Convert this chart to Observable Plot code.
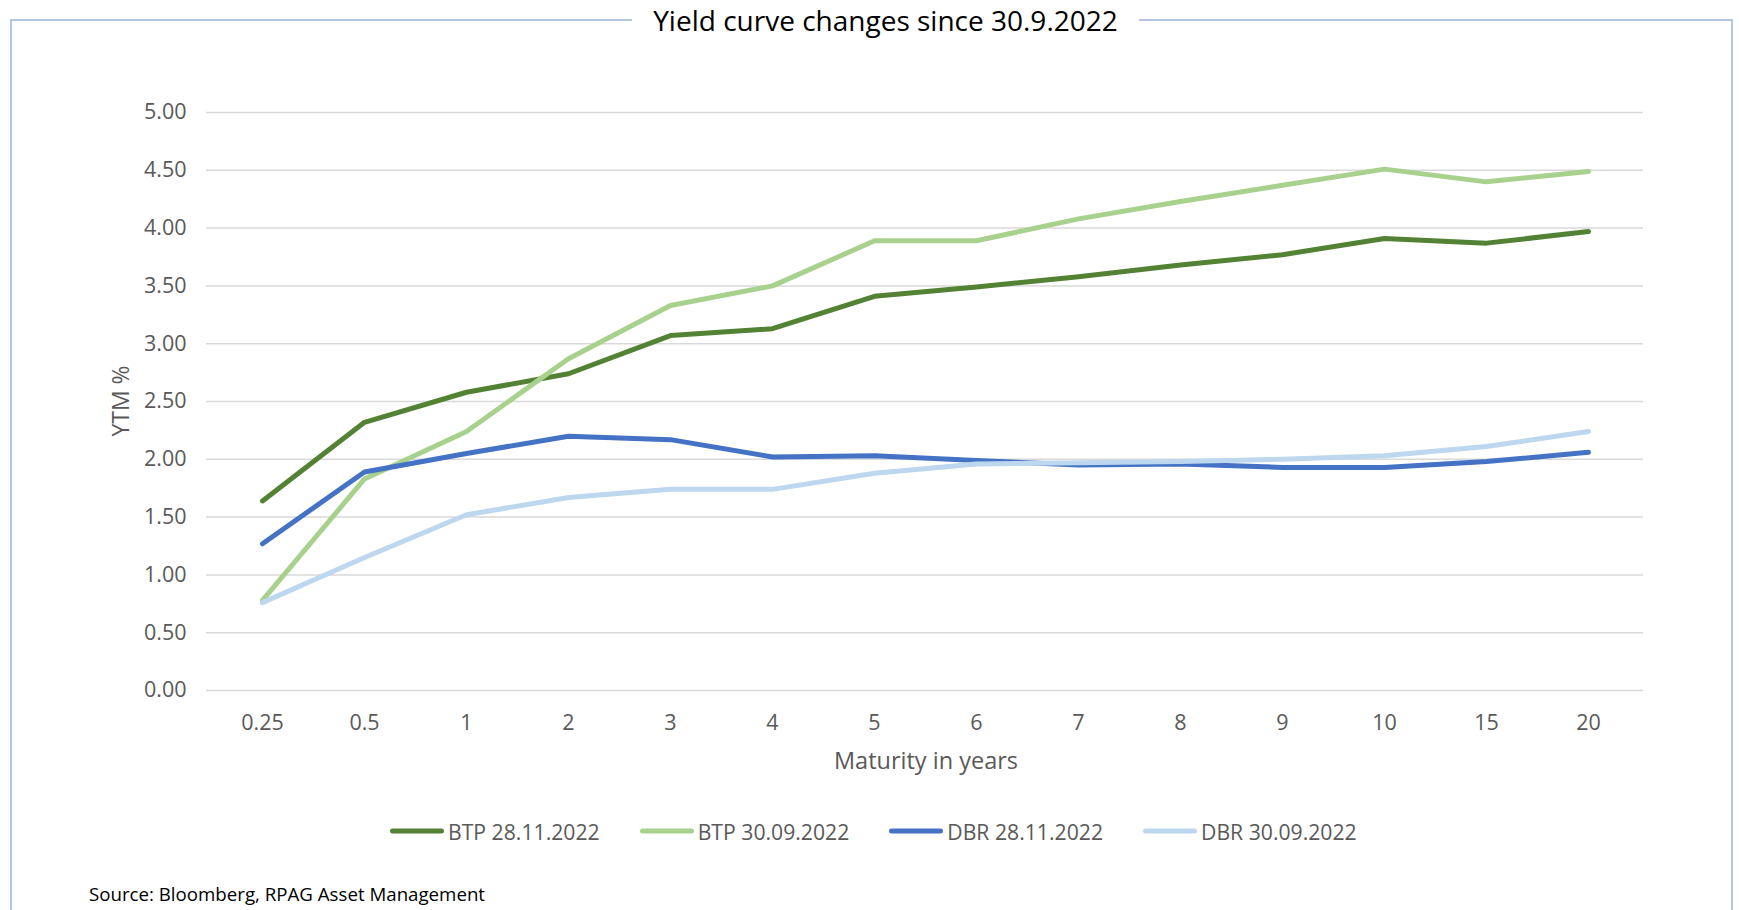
<!DOCTYPE html>
<html>
<head>
<meta charset="utf-8">
<script src="https://cdn.jsdelivr.net/npm/d3@7"></script>
<script src="https://cdn.jsdelivr.net/npm/@observablehq/plot@0.6"></script>
<style>
  html, body { margin: 0; padding: 0; background: #fff; }
  body { width: 1739px; height: 910px; position: relative; overflow: hidden; font-family: "Open Sans", sans-serif; }
  #frame { position: absolute; left: 10px; top: 19px; width: 1723px; height: 1000px; border: 2px solid #b4c6e7; box-sizing: border-box; }
  #title { position: absolute; top: 2px; left: 632px; width: 507px; text-align: center; background: #fff; font-size: 28px; color: #000; line-height: 36px; }
  #chart { position: absolute; left: 0; top: 0; }
  #ylab { position: absolute; left: 120px; top: 401px; transform: translate(-50%, -50%) rotate(-90deg); font-size: 23px; color: #595959; white-space: nowrap; }
  #xlab { position: absolute; left: 926px; top: 760px; transform: translate(-50%, -50%); font-size: 23.5px; color: #595959; white-space: nowrap; }
  #legend { position: absolute; left: 390px; top: 831px; transform: translateY(-50%); display: flex; gap: 40px; font-size: 21.2px; color: #595959; white-space: nowrap; }
  .item { display: flex; align-items: center; gap: 4px; }
  .sw { width: 54px; height: 5px; border-radius: 3px; }
  #source { position: absolute; left: 89px; top: 893px; transform: translateY(-50%); font-size: 18.7px; color: #000; white-space: nowrap; }
</style>
</head>
<body>
<div id="frame"></div>
<div id="title">Yield curve changes since 30.9.2022</div>
<div id="chart"></div>
<div id="ylab">YTM %</div>
<div id="xlab">Maturity in years</div>
<div id="legend"></div>
<div id="source">Source: Bloomberg, RPAG Asset Management</div>
<script>
const maturities = ["0.25","0.5","1","2","3","4","5","6","7","8","9","10","15","20"];
const btp2811 = [1.64,2.32,2.58,2.74,3.07,3.13,3.41,3.49,3.58,3.68,3.77,3.91,3.87,3.97];
const btp3009 = [0.78,1.83,2.24,2.87,3.33,3.50,3.89,3.89,4.08,4.23,4.37,4.51,4.40,4.49];
const dbr2811 = [1.27,1.89,2.05,2.20,2.17,2.02,2.03,1.99,1.95,1.96,1.93,1.93,1.98,2.06];
const dbr3009 = [0.76,1.15,1.52,1.67,1.74,1.74,1.88,1.96,1.97,1.98,2.00,2.03,2.11,2.24];
const seriesNames = ["BTP 28.11.2022","BTP 30.09.2022","DBR 28.11.2022","DBR 30.09.2022"];
const seriesColors = ["#548235","#a9d18e","#4472c4","#bdd7ee"];
const yTicks = [0,0.5,1,1.5,2,2.5,3,3.5,4,4.5,5];

const seriesValues = [btp2811, btp3009, dbr2811, dbr3009];
const data = [];
seriesNames.forEach((name, i) => {
  maturities.forEach((m, j) => data.push({series: name, maturity: m, value: seriesValues[i][j]}));
});

const chart = Plot.plot({
  width: 1739,
  height: 800,
  marginLeft: 206,
  marginRight: 96,
  marginTop: 112,
  marginBottom: 110,
  style: {background: "transparent", fontFamily: "Open Sans, sans-serif", color: "#595959", overflow: "visible"},
  x: {type: "point", domain: maturities, padding: 0.5},
  y: {domain: [0, 5]},
  color: {domain: seriesNames, range: seriesColors},
  marks: [
    Plot.gridY(yTicks, {stroke: "#d9d9d9", strokeOpacity: 1, strokeWidth: 1.5}),
    Plot.axisY(yTicks, {tickFormat: d3.format(".2f"), tickSize: 0, tickPadding: 20, fontSize: 21.5, fill: "#595959", label: null}),
    Plot.axisX({tickSize: 0, tickPadding: 24, fontSize: 21.5, fill: "#595959", label: null}),
    Plot.lineY(data, {x: "maturity", y: "value", z: "series", stroke: "series", strokeWidth: 5, strokeLinecap: "round", strokeLinejoin: "round"})
  ]
});
document.getElementById("chart").appendChild(chart);

const legend = document.getElementById("legend");
seriesNames.forEach((name, i) => {
  const item = document.createElement("div");
  item.className = "item";
  const sw = document.createElement("div");
  sw.className = "sw";
  sw.style.background = seriesColors[i];
  const tx = document.createElement("span");
  tx.textContent = name;
  item.appendChild(sw);
  item.appendChild(tx);
  legend.appendChild(item);
});
</script>
</body>
</html>
